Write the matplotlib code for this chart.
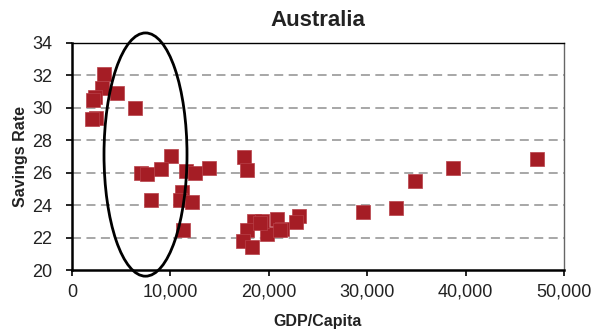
import matplotlib
matplotlib.use("Agg")
import matplotlib.pyplot as plt
from matplotlib.patches import Ellipse
from matplotlib.ticker import FuncFormatter

plt.rcParams['font.family'] = ['Liberation Sans', 'DejaVu Sans']

gdp = [3250, 3000, 2350, 2150, 4600, 6400, 2400, 2050,
       10030, 6980, 7650, 9010, 11550, 12500, 13920,
       7990, 11200, 10980, 12160, 11310,
       17480, 17820,
       23040, 22730, 20870, 21300, 19850, 18500, 19300, 17750, 17350, 18260, 19100, 21140,
       29570, 32960, 34860, 38750, 47220]
savings = [32.1, 31.2, 30.65, 30.5, 30.9, 29.97, 29.4, 29.3,
           27.04, 26.0, 25.9, 26.2, 26.1, 26.0, 26.27,
           24.3, 24.8, 24.3, 24.2, 22.46,
           26.98, 26.16,
           23.36, 22.95, 23.14, 22.56, 22.23, 23.03, 23.0, 22.46, 21.78, 21.39, 22.87, 22.46,
           23.55, 23.81, 25.5, 26.27, 26.82]

title = "Australia"
xlabel = "GDP/Capita"
ylabel = "Savings Rate"
xticks = [0, 10000, 20000, 30000, 40000, 50000]
yticks = [20, 22, 24, 26, 28, 30, 32, 34]
ellipse_center = (7470, 27.12)
ellipse_size = (8435, 15.0)

fig = plt.figure(figsize=(6.02, 3.32), dpi=100)
ax = fig.add_axes([0.1196, 0.1867, 0.8173, 0.6838])

ax.set_xlim(0, 50000)
ax.set_ylim(20, 34)

for y in yticks[1:-1]:
    ax.axhline(y, color='#a0a0a0', lw=1.3, ls=(0, (5, 3)), zorder=1)

ax.scatter(gdp, savings, marker='s', s=115, color='#A51D25', edgecolor='#B84048',
           linewidths=0.5, zorder=3)

ell = Ellipse(ellipse_center, ellipse_size[0], ellipse_size[1], fill=False,
              edgecolor='black', lw=2.0, clip_on=False, zorder=4)
ax.add_patch(ell)

ax.set_xticks(xticks)
ax.set_yticks(yticks)
ax.xaxis.set_major_formatter(FuncFormatter(lambda v, p: f"{int(v):,}"))
ax.tick_params(axis='both', direction='out', length=4, width=1.2, labelsize=13,
               colors='black', labelcolor='#222222')
ax.tick_params(axis='x', pad=6)
ax.tick_params(axis='y', pad=10)

for side in ['left', 'bottom']:
    ax.spines[side].set_linewidth(1.8)
    ax.spines[side].set_color('black')
ax.spines['top'].set_linewidth(1.0)
ax.spines['top'].set_color('black')
ax.spines['right'].set_linewidth(1.0)
ax.spines['right'].set_color('#666666')

ax.set_title(title, fontsize=16, fontweight='bold', color='#222222', pad=12)
ax.set_xlabel(xlabel, fontsize=11.5, fontweight='bold', color='#222222')
ax.set_ylabel(ylabel, fontsize=11.5, fontweight='bold', color='#222222')
ax.xaxis.set_label_coords(0.5, -0.193)
ax.yaxis.set_label_coords(-0.09, 0.5)

fig.savefig("out.png", dpi=100)
